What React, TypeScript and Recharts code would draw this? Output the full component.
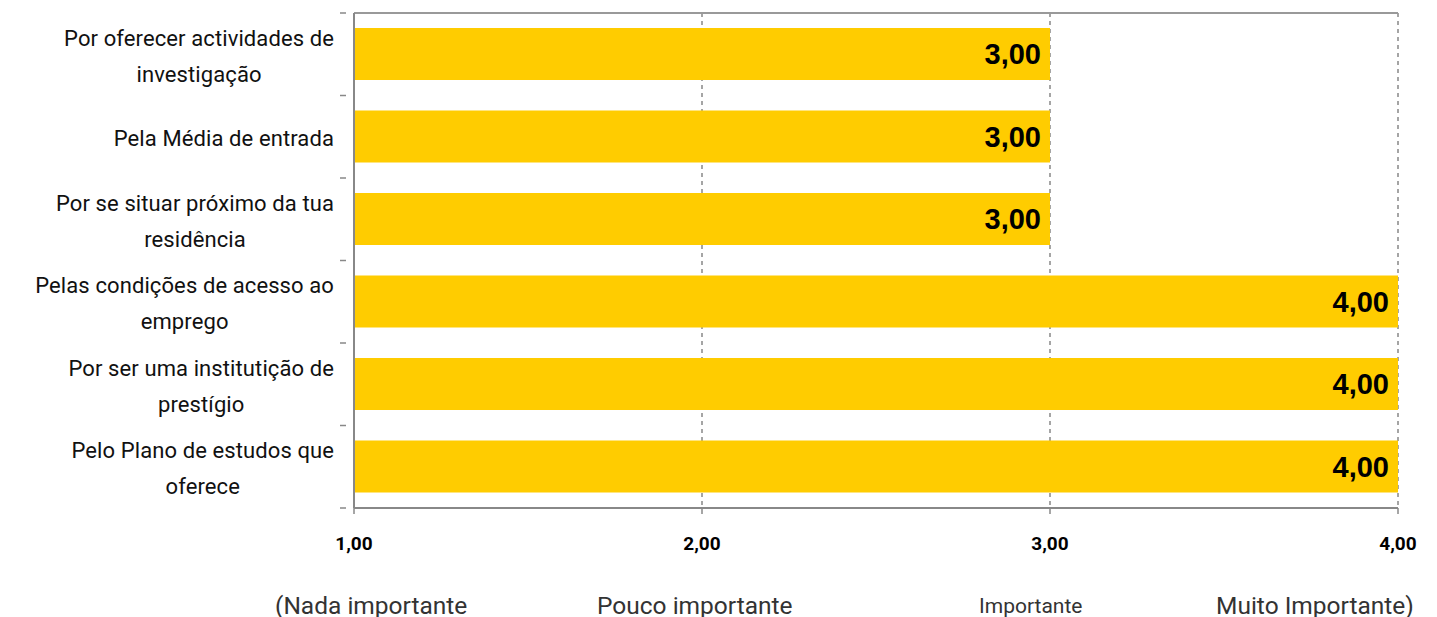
import React from "react";
import {
  BarChart,
  Bar,
  XAxis,
  YAxis,
  CartesianGrid,
  LabelList,
} from "recharts";

const categories = [
  "Por oferecer actividades de\ninvestigação",
  "Pela Média de entrada",
  "Por se situar próximo da tua\nresidência",
  "Pelas condições de acesso ao\nemprego",
  "Por ser uma institutição de\nprestígio",
  "Pelo Plano de estudos que\noferece",
];
const values = [3, 3, 3, 4, 4, 4];
const xTicks = [1, 2, 3, 4];
const scaleLabels = [
  "(Nada importante",
  "Pouco importante",
  "Importante",
  "Muito Importante)",
];

const data = categories.map((name, i) => ({ name, value: values[i] }));

const fmt = (v: any) => Number(v).toFixed(2).replace(".", ",");

const CAT_FONT = "Roboto";
const CAT_SIZE = 22;
const CAT_SPACING = 0.1;

let canvas: HTMLCanvasElement | null = null;
const textWidth = (s: string) => {
  if (!canvas) canvas = document.createElement("canvas");
  const ctx = canvas.getContext("2d");
  if (!ctx) return s.length * 10;
  ctx.font = `${CAT_SIZE}px ${CAT_FONT}`;
  return ctx.measureText(s).width + s.length * CAT_SPACING;
};

const CategoryTick = ({ x, y, payload, index }: any) => {
  const lines = String(payload.value).split("\n");
  const half = payload.offset || 41;
  const block = Math.max(...lines.map(textWidth));
  const right = x - 12;
  const cx = right - block / 2;
  const lh = 36;
  const startY = y + 2 - ((lines.length - 1) * lh) / 2;
  return (
    <g>
      <line x1={x - 6} x2={x} y1={y - half} y2={y - half} stroke="#888" strokeWidth={1.5} />
      {index === categories.length - 1 && (
        <line x1={x - 6} x2={x} y1={y + half} y2={y + half} stroke="#888" strokeWidth={1.5} />
      )}
      {lines.map((l, i) => (
        <text
          key={i}
          x={cx}
          y={startY + i * lh}
          dy="0.35em"
          textAnchor="middle"
          fontFamily={CAT_FONT}
          fontSize={CAT_SIZE}
          letterSpacing={CAT_SPACING}
          fill="#111"
        >
          {l}
        </text>
      ))}
    </g>
  );
};

const labelPos = [
  { left: 275, fontSize: 24.5 },
  { left: 597, fontSize: 24.5 },
  { left: 979, fontSize: 21 },
  { left: 1216, fontSize: 24.5 },
];

export default function App() {
  return (
    <div style={{ position: "relative", width: 1437, height: 617, background: "#fff" }}>
      <style>{`body{margin:0}`}</style>
      <BarChart
        width={1437}
        height={617}
        data={data}
        layout="vertical"
        margin={{ top: 12, right: 39, left: 0, bottom: 58 }}
      >
        <CartesianGrid
          horizontal={false}
          vertical
          stroke="#888"
          strokeDasharray="4 4"
          strokeWidth={1.5}
        />
        <XAxis
          type="number"
          domain={[1, 4]}
          ticks={xTicks}
          interval={0}
          tickFormatter={fmt}
          height={51}
          tickSize={6}
          tickMargin={23}
          axisLine={{ stroke: "#888", strokeWidth: 2 }}
          tickLine={{ stroke: "#888", strokeWidth: 1.5 }}
          tick={{ fill: "#000", fontSize: 19, fontWeight: 700, fontFamily: "Roboto" }}
        />
        <XAxis
          xAxisId="top"
          orientation="top"
          type="number"
          domain={[1, 4]}
          height={1}
          tick={false}
          tickLine={false}
          axisLine={{ stroke: "#999", strokeWidth: 2 }}
        />
        <YAxis
          type="category"
          dataKey="name"
          width={354}
          interval={0}
          tickLine={false}
          axisLine={{ stroke: "#888", strokeWidth: 2 }}
          tick={<CategoryTick />}
        />
        <Bar dataKey="value" fill="#FFCC00" barSize={52} isAnimationActive={false}>
          <LabelList
            dataKey="value"
            position="insideRight"
            offset={9}
            formatter={fmt}
            fill="#000"
            fontSize={29}
            fontWeight={700}
            fontFamily="'Liberation Sans Narrow', 'Liberation Sans', sans-serif"
          />
        </Bar>
      </BarChart>
      {scaleLabels.map((t, i) => (
        <div
          key={t}
          style={{
            position: "absolute",
            left: labelPos[i].left,
            top: 606,
            transform: "translateY(-50%)",
            fontFamily: "Roboto, 'Liberation Sans', sans-serif",
            fontSize: labelPos[i].fontSize,
            color: "#333",
            whiteSpace: "nowrap",
            lineHeight: 1,
          }}
        >
          {t}
        </div>
      ))}
    </div>
  );
}
